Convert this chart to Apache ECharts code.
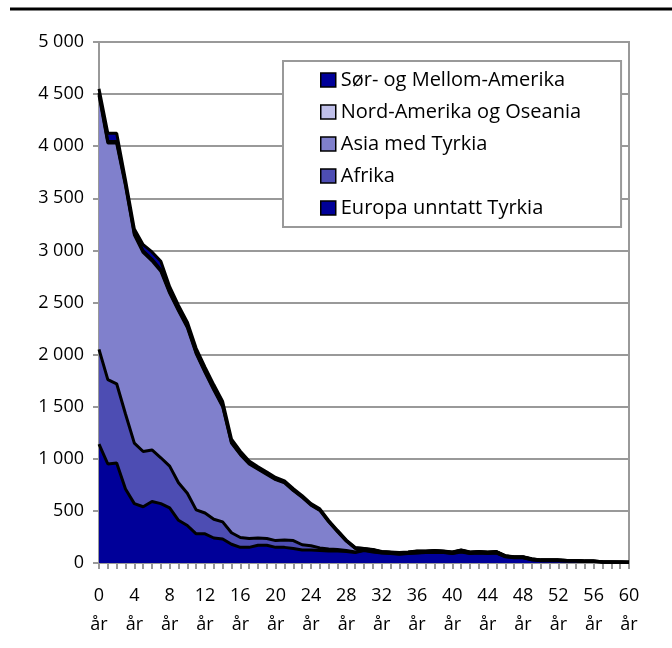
<!DOCTYPE html>
<html>
<head>
<meta charset="utf-8">
<script src="https://cdn.jsdelivr.net/npm/echarts@6/dist/echarts.min.js"></script>
<style>
  html, body { margin: 0; padding: 0; background: #fff; }
  #box { width: 672px; height: 648px; }
</style>
</head>
<body>
<div id="box"></div>
<script>
var years = [];
for (var i = 0; i <= 60; i++) years.push(String(i));

var europa = [1140, 950, 960, 710, 570, 540, 590, 570, 530, 410, 360, 280, 280, 240, 230, 180, 150, 150, 170, 170,
  150, 150, 140, 125, 125, 120, 115, 115, 110, 100, 120, 105, 95, 90, 85, 90, 95, 100, 100, 100,
  90, 105, 90, 95, 90, 95, 60, 50, 50, 30, 22, 22, 22, 18, 18, 15, 15, 8, 8, 6, 6];
var afrika = [910, 810, 760, 720, 580, 530, 495, 440, 400, 360, 310, 230, 200, 180, 165, 110, 95, 85, 70, 65,
  65, 70, 75, 50, 40, 25, 20, 15, 10, 5, 5, 5, 4, 4, 3, 3, 4, 3, 4, 3,
  3, 4, 3, 3, 3, 3, 2, 2, 2, 2, 2, 2, 2, 2, 1, 1, 1, 1, 1, 1, 1];
var asia = [2440, 2270, 2310, 2190, 2000, 1910, 1815, 1790, 1660, 1650, 1590, 1500, 1350, 1240, 1105, 860, 795, 715, 660, 615,
  585, 550, 480, 455, 390, 360, 260, 170, 90, 35, 10, 14, 6, 6, 8, 8, 11, 8, 10, 8,
  8, 11, 8, 8, 8, 8, 5, 5, 5, 5, 4, 4, 4, 3, 4, 2, 2, 2, 0, 2, 0];
var nordAmerika = [20, 15, 15, 15, 15, 15, 15, 15, 12, 12, 12, 10, 10, 10, 10, 8, 8, 8, 8, 8,
  6, 6, 6, 6, 5, 5, 5, 5, 4, 4, 3, 3, 2, 2, 2, 2, 2, 2, 3, 2,
  2, 2, 2, 2, 2, 2, 1, 1, 1, 1, 1, 1, 1, 1, 1, 1, 1, 1, 1, 1, 1];
var sorAmerika = [40, 80, 80, 40, 40, 60, 70, 80, 50, 40, 40, 40, 40, 40, 40, 30, 25, 20, 15, 15,
  15, 12, 12, 10, 10, 10, 8, 8, 6, 5, 2, 3, 3, 3, 2, 2, 3, 2, 3, 2,
  2, 3, 2, 2, 2, 2, 2, 2, 2, 2, 1, 1, 1, 1, 1, 1, 1, 0, 0, 0, 0];

var names = ['Europa unntatt Tyrkia', 'Afrika', 'Asia med Tyrkia', 'Nord-Amerika og Oseania', 'Sør- og Mellom-Amerika'];
var colors = ['#000099', '#4d4db3', '#8080cc', '#c0c0ea', '#000099'];
var values = [europa, afrika, asia, nordAmerika, sorAmerika];

var font = 'Open Sans';
var series = names.map(function (n, k) {
  return {
    name: n,
    type: 'line',
    stack: 'all',
    data: values[k],
    showSymbol: false,
    symbol: 'none',
    color: colors[k],
    lineStyle: { color: '#000', width: 3 },
    itemStyle: { color: colors[k], borderColor: '#000', borderWidth: 1.5 },
    areaStyle: { color: colors[k], opacity: 1 }
  };
});

var myChart = echarts.init(document.getElementById('box'));
var option = {
  animation: false,
  textStyle: { fontFamily: font },
  grid: { left: 99, right: 43, top: 42, bottom: 85, show: true, borderColor: '#999', borderWidth: 2 },
  legend: {
    data: names.slice().reverse(),
    orient: 'vertical',
    left: 283,
    top: 61,
    padding: [9, 40, 9, 37],
    itemWidth: 15,
    itemHeight: 14,
    itemGap: 12,
    icon: 'rect',
    backgroundColor: '#fff',
    borderColor: '#999',
    borderWidth: 2,
    borderRadius: 0,
    itemStyle: { borderColor: '#000', borderWidth: 1.5 },
    textStyle: { fontFamily: font, fontSize: 20, color: '#000', lineHeight: 20 }
  },
  xAxis: {
    type: 'category',
    data: years,
    boundaryGap: false,
    axisLine: { lineStyle: { color: '#999', width: 2 } },
    axisTick: { interval: 0, length: 6, lineStyle: { color: '#999', width: 2 } },
    axisLabel: {
      interval: 3,
      margin: 18,
      color: '#000',
      fontFamily: font,
      fontSize: 18,
      lineHeight: 29,
      formatter: function (v) { return v + '\når'; }
    },
    splitLine: { show: false }
  },
  yAxis: {
    type: 'value',
    min: 0,
    max: 5000,
    interval: 500,
    axisLine: { show: true, lineStyle: { color: '#999', width: 2 } },
    axisTick: { show: true, length: 6, lineStyle: { color: '#999', width: 2 } },
    axisLabel: {
      margin: 15,
      color: '#000',
      fontFamily: font,
      fontSize: 18,
      formatter: function (v) { return String(v).replace(/\B(?=(\d{3})+(?!\d))/g, ' '); }
    },
    splitLine: { lineStyle: { color: '#999', width: 2 } }
  },
  graphic: [{
    type: 'line',
    shape: { x1: 10, y1: 9, x2: 672, y2: 9 },
    style: { stroke: '#000', lineWidth: 3 }
  }],
  series: series
};
myChart.setOption(option);
</script>
</body>
</html>
